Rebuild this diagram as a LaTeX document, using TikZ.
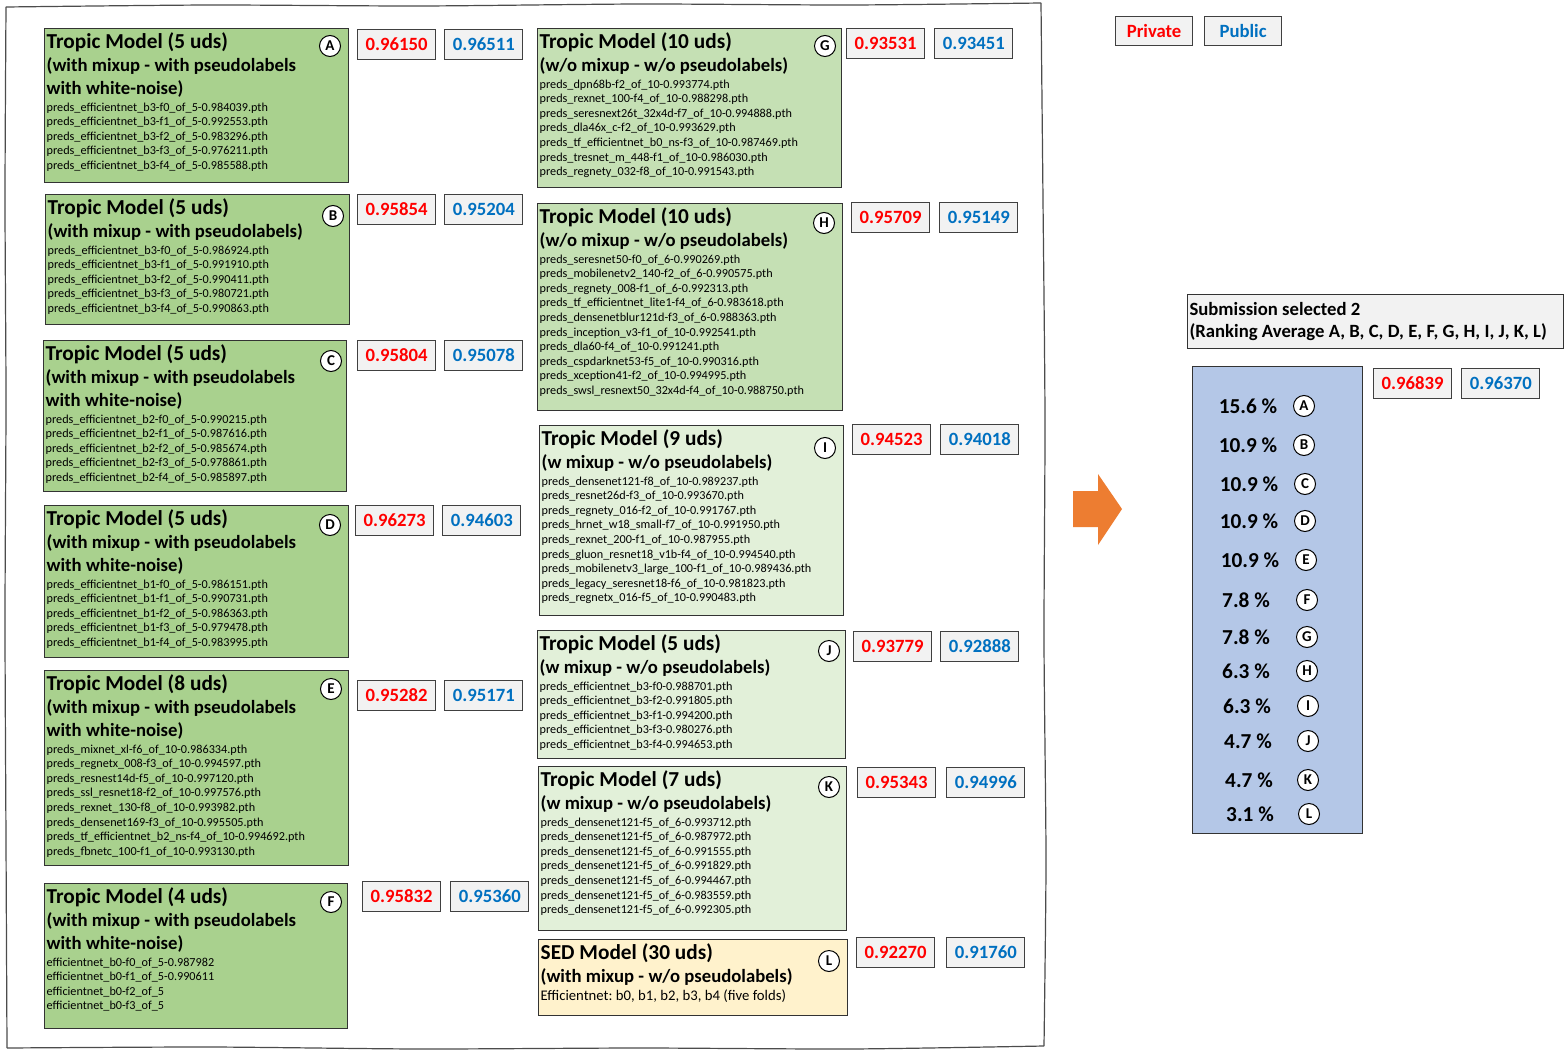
\documentclass[tikz,border=0pt]{standalone}
\usepackage{fontspec}
\setmainfont{Carlito}
\usetikzlibrary{positioning}
\definecolor{gA}{HTML}{A9D18E}
\definecolor{gB}{HTML}{C5E0B4}
\definecolor{gC}{HTML}{E2F0D9}
\definecolor{yL}{HTML}{FFF2CC}
\definecolor{bW}{HTML}{B4C7E7}
\definecolor{grS}{HTML}{F2F2F2}
\definecolor{orA}{HTML}{ED7D31}
\definecolor{redS}{HTML}{FF0000}
\definecolor{bluS}{HTML}{0070C0}
\newcommand{\ttlf}{\fontsize{21.3}{22}\selectfont\bfseries}
\newcommand{\subf}{\fontsize{18.7}{23}\selectfont\bfseries\spaceskip=.23em\relax}
\newcommand{\filf}{\fontsize{12.2}{14.6}\selectfont\mdseries\spaceskip=.23em\relax}
\setlength{\parindent}{0pt}
\frenchspacing
\tikzset{
 model/.style={draw=black!80, line width=1.1pt, anchor=north west, inner sep=0pt},
 modtxt/.style={anchor=north west, inner sep=0pt, text width=300pt, font=\ttlf, xshift=2.5pt, yshift=-4pt, execute at begin node={\spaceskip=.23em\relax}},
 badge/.style={circle, draw=black, line width=1pt, fill=white, inner sep=0pt, minimum size=21pt, font=\fontsize{15}{15}\selectfont\bfseries},
 score/.style={draw=black!75, line width=1.2pt, fill=grS, anchor=north west, minimum width=78pt, minimum height=30pt, inner sep=0pt, font=\fontsize{18.7}{20}\selectfont\bfseries},
 priv/.style={score, text=redS},
 pub/.style={score, text=bluS},
 pct/.style={font=\fontsize{21.3}{22}\selectfont\bfseries, inner sep=0pt}
}
\begin{document}
\begin{tikzpicture}[x=1pt,y=-1pt]
 \useasboundingbox (0,0) rectangle (1564,1052);
 \draw[black!70, line width=1.2pt] plot[smooth, tension=0.4] coordinates {(6,7) (210,5) (420,6) (640,4) (850,5) (1041,3)};
 \draw[black!70, line width=1.2pt] plot[smooth, tension=0.4] coordinates {(1041,3) (1043,200) (1045,420) (1044,640) (1046,860) (1044,1046)};
 \draw[black!70, line width=1.2pt] plot[smooth, tension=0.4] coordinates {(1044,1046) (850,1049) (640,1048) (420,1049) (210,1047) (7,1048)};
 \draw[black!70, line width=1.2pt] plot[smooth, tension=0.4] coordinates {(7,1048) (6,840) (5,620) (6,400) (5,200) (6,7)};

 \node[model, fill=gA, minimum width=304pt, minimum height=154pt] (mA) at (44,28) {};
 \node[modtxt] (tA) at (mA.north west) {Tropic Model (5 uds)\par{\subf (with mixup - with pseudolabels\par with white-noise)\par}{\filf\vspace{2.5pt}preds\_efficientnet\_b3-f0\_of\_5-0.984039.pth\par preds\_efficientnet\_b3-f1\_of\_5-0.992553.pth\par preds\_efficientnet\_b3-f2\_of\_5-0.983296.pth\par preds\_efficientnet\_b3-f3\_of\_5-0.976211.pth\par preds\_efficientnet\_b3-f4\_of\_5-0.985588.pth\par}};
 \node[badge] (cA) at (330,46) {A};
 \node[priv] (pA) at (357,29) {0.96150};
 \node[pub, right=8pt of pA] (uA) {0.96511};

 \node[model, fill=gA, minimum width=304pt, minimum height=130pt] (mB) at (45,194) {};
 \node[modtxt] (tB) at (mB.north west) {Tropic Model (5 uds)\par{\subf (with mixup - with pseudolabels)\par}{\filf\vspace{2.5pt}preds\_efficientnet\_b3-f0\_of\_5-0.986924.pth\par preds\_efficientnet\_b3-f1\_of\_5-0.991910.pth\par preds\_efficientnet\_b3-f2\_of\_5-0.990411.pth\par preds\_efficientnet\_b3-f3\_of\_5-0.980721.pth\par preds\_efficientnet\_b3-f4\_of\_5-0.990863.pth\par}};
 \node[badge] (cB) at (333,216) {B};
 \node[priv] (pB) at (357,194) {0.95854};
 \node[pub, right=8pt of pB] (uB) {0.95204};

 \node[model, fill=gA, minimum width=303pt, minimum height=151pt] (mC) at (43,340) {};
 \node[modtxt] (tC) at (mC.north west) {Tropic Model (5 uds)\par{\subf (with mixup - with pseudolabels\par with white-noise)\par}{\filf\vspace{2.5pt}preds\_efficientnet\_b2-f0\_of\_5-0.990215.pth\par preds\_efficientnet\_b2-f1\_of\_5-0.987616.pth\par preds\_efficientnet\_b2-f2\_of\_5-0.985674.pth\par preds\_efficientnet\_b2-f3\_of\_5-0.978861.pth\par preds\_efficientnet\_b2-f4\_of\_5-0.985897.pth\par}};
 \node[badge] (cC) at (331,361) {C};
 \node[priv] (pC) at (357,340) {0.95804};
 \node[pub, right=8pt of pC] (uC) {0.95078};

 \node[model, fill=gA, minimum width=304pt, minimum height=152pt] (mD) at (44,505) {};
 \node[modtxt] (tD) at (mD.north west) {Tropic Model (5 uds)\par{\subf (with mixup - with pseudolabels\par with white-noise)\par}{\filf\vspace{2.5pt}preds\_efficientnet\_b1-f0\_of\_5-0.986151.pth\par preds\_efficientnet\_b1-f1\_of\_5-0.990731.pth\par preds\_efficientnet\_b1-f2\_of\_5-0.986363.pth\par preds\_efficientnet\_b1-f3\_of\_5-0.979478.pth\par preds\_efficientnet\_b1-f4\_of\_5-0.983995.pth\par}};
 \node[badge] (cD) at (330,525) {D};
 \node[priv] (pD) at (355,505) {0.96273};
 \node[pub, right=8pt of pD] (uD) {0.94603};

 \node[model, fill=gA, minimum width=304pt, minimum height=195pt] (mE) at (44,670) {};
 \node[modtxt] (tE) at (mE.north west) {Tropic Model (8 uds)\par{\subf (with mixup - with pseudolabels\par with white-noise)\par}{\filf\vspace{2.5pt}preds\_mixnet\_xl-f6\_of\_10-0.986334.pth\par preds\_regnetx\_008-f3\_of\_10-0.994597.pth\par preds\_resnest14d-f5\_of\_10-0.997120.pth\par preds\_ssl\_resnet18-f2\_of\_10-0.997576.pth\par preds\_rexnet\_130-f8\_of\_10-0.993982.pth\par preds\_densenet169-f3\_of\_10-0.995505.pth\par preds\_tf\_efficientnet\_b2\_ns-f4\_of\_10-0.994692.pth\par preds\_fbnetc\_100-f1\_of\_10-0.993130.pth\par}};
 \node[badge] (cE) at (331,689) {E};
 \node[priv] (pE) at (357,680) {0.95282};
 \node[pub, right=8pt of pE] (uE) {0.95171};

 \node[model, fill=gA, minimum width=303pt, minimum height=145pt] (mF) at (44,883) {};
 \node[modtxt] (tF) at (mF.north west) {Tropic Model (4 uds)\par{\subf (with mixup - with pseudolabels\par with white-noise)\par}{\filf\vspace{2.5pt}efficientnet\_b0-f0\_of\_5-0.987982\par efficientnet\_b0-f1\_of\_5-0.990611\par efficientnet\_b0-f2\_of\_5\par efficientnet\_b0-f3\_of\_5\par}};
 \node[badge] (cF) at (331,902) {F};
 \node[priv] (pF) at (362,881) {0.95832};
 \node[pub, right=9pt of pF] (uF) {0.95360};

 \node[model, fill=gB, minimum width=304pt, minimum height=159pt] (mG) at (537,28) {};
 \node[modtxt] (tG) at (mG.north west) {Tropic Model (10 uds)\par{\subf (w/o mixup - w/o pseudolabels)\par}{\filf\vspace{2.5pt}preds\_dpn68b-f2\_of\_10-0.993774.pth\par preds\_rexnet\_100-f4\_of\_10-0.988298.pth\par preds\_seresnext26t\_32x4d-f7\_of\_10-0.994888.pth\par preds\_dla46x\_c-f2\_of\_10-0.993629.pth\par preds\_tf\_efficientnet\_b0\_ns-f3\_of\_10-0.987469.pth\par preds\_tresnet\_m\_448-f1\_of\_10-0.986030.pth\par preds\_regnety\_032-f8\_of\_10-0.991543.pth\par}};
 \node[badge] (cG) at (825,46) {G};
 \node[priv] (pG) at (846,28) {0.93531};
 \node[pub, right=9pt of pG] (uG) {0.93451};

 \node[model, fill=gB, minimum width=305pt, minimum height=207pt] (mH) at (537,203) {};
 \node[modtxt] (tH) at (mH.north west) {Tropic Model (10 uds)\par{\subf (w/o mixup - w/o pseudolabels)\par}{\filf\vspace{2.5pt}preds\_seresnet50-f0\_of\_6-0.990269.pth\par preds\_mobilenetv2\_140-f2\_of\_6-0.990575.pth\par preds\_regnety\_008-f1\_of\_6-0.992313.pth\par preds\_tf\_efficientnet\_lite1-f4\_of\_6-0.983618.pth\par preds\_densenetblur121d-f3\_of\_6-0.988363.pth\par preds\_inception\_v3-f1\_of\_10-0.992541.pth\par preds\_dla60-f4\_of\_10-0.991241.pth\par preds\_cspdarknet53-f5\_of\_10-0.990316.pth\par preds\_xception41-f2\_of\_10-0.994995.pth\par preds\_swsl\_resnext50\_32x4d-f4\_of\_10-0.988750.pth\par}};
 \node[badge] (cH) at (824,223) {H};
 \node[priv] (pH) at (851,202) {0.95709};
 \node[pub, right=9pt of pH] (uH) {0.95149};

 \node[model, fill=gC, minimum width=304pt, minimum height=190pt] (mI) at (539,425) {};
 \node[modtxt] (tI) at (mI.north west) {Tropic Model (9 uds)\par{\subf (w mixup - w/o pseudolabels)\par}{\filf\vspace{2.5pt}preds\_densenet121-f8\_of\_10-0.989237.pth\par preds\_resnet26d-f3\_of\_10-0.993670.pth\par preds\_regnety\_016-f2\_of\_10-0.991767.pth\par preds\_hrnet\_w18\_small-f7\_of\_10-0.991950.pth\par preds\_rexnet\_200-f1\_of\_10-0.987955.pth\par preds\_gluon\_resnet18\_v1b-f4\_of\_10-0.994540.pth\par preds\_mobilenetv3\_large\_100-f1\_of\_10-0.989436.pth\par preds\_legacy\_seresnet18-f6\_of\_10-0.981823.pth\par preds\_regnetx\_016-f5\_of\_10-0.990483.pth\par}};
 \node[badge] (cI) at (825,448) {I};
 \node[priv] (pI) at (852,424) {0.94523};
 \node[pub, right=9pt of pI] (uI) {0.94018};

 \node[model, fill=gC, minimum width=308pt, minimum height=128pt] (mJ) at (537,630) {};
 \node[modtxt] (tJ) at (mJ.north west) {Tropic Model (5 uds)\par{\subf (w mixup - w/o pseudolabels)\par}{\filf\vspace{2.5pt}preds\_efficientnet\_b3-f0-0.988701.pth\par preds\_efficientnet\_b3-f2-0.991805.pth\par preds\_efficientnet\_b3-f1-0.994200.pth\par preds\_efficientnet\_b3-f3-0.980276.pth\par preds\_efficientnet\_b3-f4-0.994653.pth\par}};
 \node[badge] (cJ) at (829,651) {J};
 \node[priv] (pJ) at (853,631) {0.93779};
 \node[pub, right=8pt of pJ] (uJ) {0.92888};

 \node[model, fill=gC, minimum width=308pt, minimum height=164pt] (mK) at (538,766) {};
 \node[modtxt] (tK) at (mK.north west) {Tropic Model (7 uds)\par{\subf (w mixup - w/o pseudolabels)\par}{\filf\vspace{2.5pt}preds\_densenet121-f5\_of\_6-0.993712.pth\par preds\_densenet121-f5\_of\_6-0.987972.pth\par preds\_densenet121-f5\_of\_6-0.991555.pth\par preds\_densenet121-f5\_of\_6-0.991829.pth\par preds\_densenet121-f5\_of\_6-0.994467.pth\par preds\_densenet121-f5\_of\_6-0.983559.pth\par preds\_densenet121-f5\_of\_6-0.992305.pth\par}};
 \node[badge] (cK) at (829,787) {K};
 \node[priv] (pK) at (857,767) {0.95343};
 \node[pub, right=10pt of pK] (uK) {0.94996};

 \node[model, fill=yL, minimum width=309pt, minimum height=76pt] (mL) at (538,939) {};
 \node[modtxt] (tL) at (mL.north west) {SED Model (30 uds)\par{\subf (with mixup - w/o pseudolabels)\par}{\fontsize{14.7}{18}\selectfont\mdseries\spaceskip=.23em\relax Efficientnet: b0, b1, b2, b3, b4 (five folds)\par}};
 \node[badge] (cL) at (829,961) {L};
 \node[priv] (pL) at (856,937) {0.92270};
 \node[pub, right=11pt of pL] (uL) {0.91760};

 \node[priv, minimum width=77pt, minimum height=29pt] (lgPriv) at (1115,16) {Private};
 \node[pub, minimum width=77pt, minimum height=29pt] (lgPub) at (1204,16) {Public};

 \fill[orA] (1073,491) -- (1098,491) -- (1098,474) -- (1122,509) -- (1098,545) -- (1098,527) -- (1073,527) -- cycle;

 \node[draw=black!80, line width=1.1pt, fill=grS, anchor=north west, minimum width=376pt, minimum height=54pt, inner sep=2pt, text width=372pt, font=\fontsize{18.7}{22.5}\selectfont\bfseries, execute at begin node={\spaceskip=.23em\relax}] (sel) at (1187,294) {Submission selected 2\par (Ranking Average A, B, C, D, E, F, G, H, I, J, K, L)\par};
 \node[draw=black!80, line width=1.1pt, fill=bW, anchor=north west, minimum width=170pt, minimum height=467pt] (wbox) at (1192,366) {};
 \node[priv] (pS) at (1373,368) {0.96839};
 \node[pub, right=9pt of pS] (uS) {0.96370};

 \node[pct] (wA) at (1248,406) {15.6 \%};
 \node[badge] (rA) at (1304,406) {A};
 \node[pct] (wB) at (1248,445) {10.9 \%};
 \node[badge] (rB) at (1304,445) {B};
 \node[pct] (wC) at (1249,484) {10.9 \%};
 \node[badge] (rC) at (1305,484) {C};
 \node[pct] (wD) at (1249,521) {10.9 \%};
 \node[badge] (rD) at (1305,521) {D};
 \node[pct] (wE) at (1250,560) {10.9 \%};
 \node[badge] (rE) at (1306,560) {E};
 \node[pct] (wF) at (1246,600) {7.8 \%};
 \node[badge] (rF) at (1307,600) {F};
 \node[pct] (wG) at (1246,637) {7.8 \%};
 \node[badge] (rG) at (1307,637) {G};
 \node[pct] (wH) at (1246,671) {6.3 \%};
 \node[badge] (rH) at (1307,671) {H};
 \node[pct] (wI) at (1247,706) {6.3 \%};
 \node[badge] (rI) at (1308,706) {I};
 \node[pct] (wJ) at (1248,741) {4.7 \%};
 \node[badge] (rJ) at (1308,741) {J};
 \node[pct] (wK) at (1249,780) {4.7 \%};
 \node[badge] (rK) at (1308,780) {K};
 \node[pct] (wL) at (1250,814) {3.1 \%};
 \node[badge] (rL) at (1309,814) {L};
\end{tikzpicture}
\end{document}
